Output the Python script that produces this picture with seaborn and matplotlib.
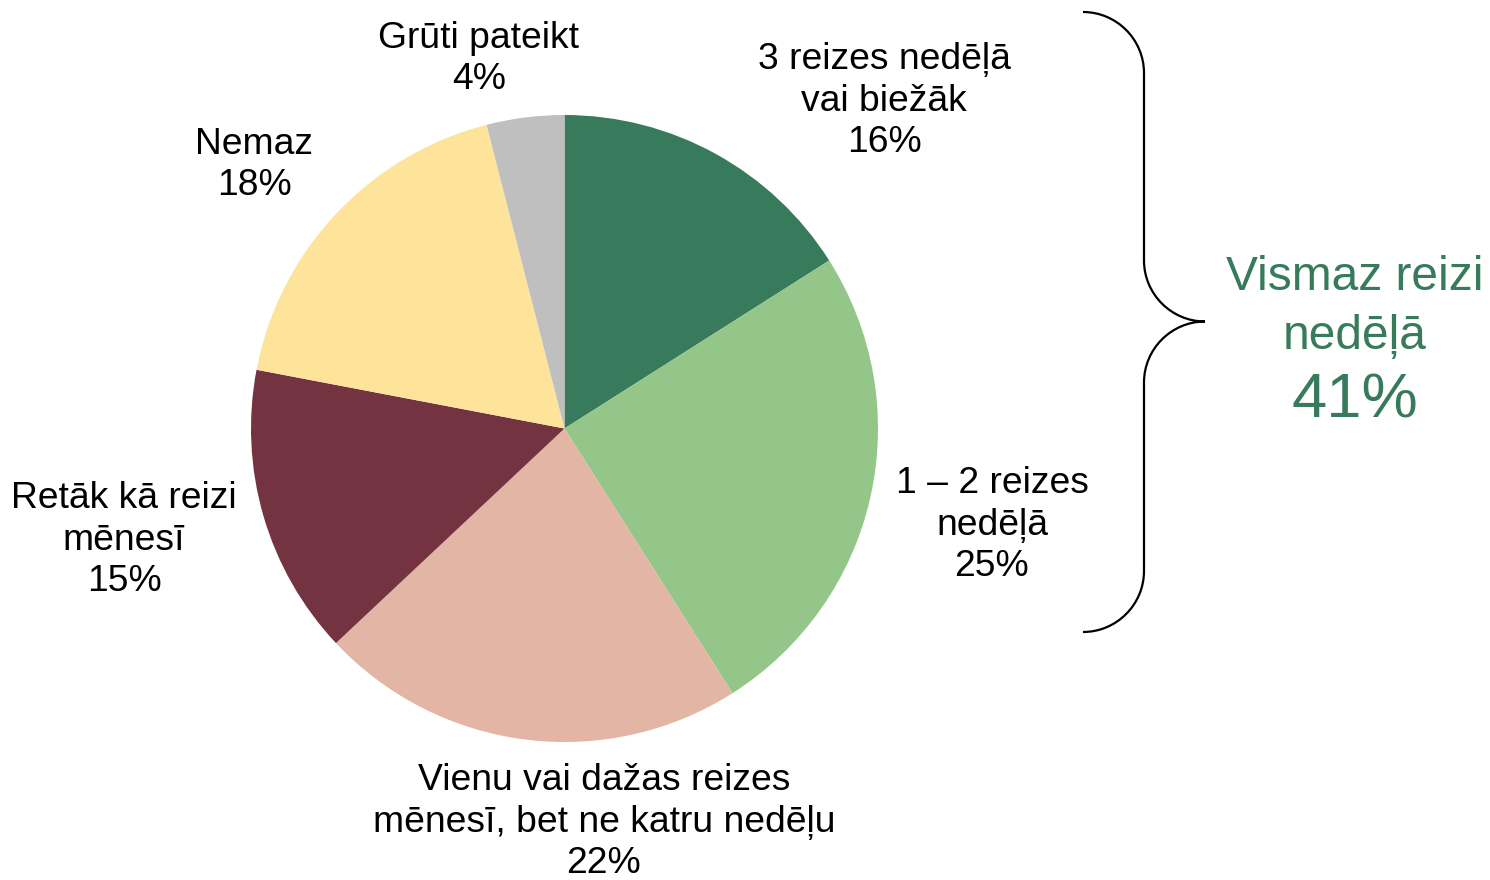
import matplotlib
matplotlib.use("Agg")
import matplotlib.pyplot as plt
import seaborn as sns
from matplotlib.path import Path
from matplotlib.patches import PathPatch

categories = ["3 reizes nedēļā\nvai biežāk", "1 – 2 reizes\nnedēļā",
              "Vienu vai dažas reizes\nmēnesī, bet ne katru nedēļu",
              "Retāk kā reizi\nmēnesī", "Nemaz", "Grūti pateikt"]
values = [16, 25, 22, 15, 18, 4]
colors = ["#387A5C", "#94C689", "#E2B5A5", "#733341", "#FEE49A", "#BFBFBF"]
brace_label = "Vismaz reizi\nnedēļā"
brace_value = "41%"

sns.set_theme(style="white")
plt.rcParams['font.family'] = ['Liberation Sans', 'DejaVu Sans']

W, H = 1490, 880
fig = plt.figure(figsize=(W / 100, H / 100), dpi=100)
ax = fig.add_axes([0, 0, 1, 1])

cx, cy, r = 564.5, H - 428.5, 313.5
ax.pie(values, colors=colors, startangle=90, counterclock=False,
       center=(cx, cy), radius=r, wedgeprops=dict(linewidth=0))

ax.set_xlim(0, W)
ax.set_ylim(0, H)
ax.set_aspect('equal')
ax.axis('off')

# label anchor positions (pixel coords of text centre)
label_pos = [(884, 101), (992, 525), (604, 822), (124, 540), (254, 165), (479, 59)]
fs = 26.8
for cat, v, (x, y) in zip(categories, values, label_pos):
    ax.text(x, H - y, f"{cat}\n{v}%", ha='center', va='center', fontsize=fs,
            color='black', linespacing=1.25)

# curly brace
x0, x1, x2 = 1083, 1144, 1205
ytop, ymid, ybot = 12, 321.5, 632
k = 0.55 * 61
verts = [
    (x0, H - ytop),
    (x0 + k, H - ytop), (x1, H - (ytop + 61 - k)), (x1, H - (ytop + 61)),
    (x1, H - (ymid - 61)),
    (x1, H - (ymid - 61 + k)), (x2 - k, H - ymid), (x2, H - ymid),
    (x2 - k, H - ymid), (x1, H - (ymid + 61 - k)), (x1, H - (ymid + 61)),
    (x1, H - (ybot - 61)),
    (x1, H - (ybot - 61 + k)), (x0 + k, H - ybot), (x0, H - ybot),
]
codes = ([Path.MOVETO] + [Path.CURVE4] * 3 + [Path.LINETO] + [Path.CURVE4] * 3
         + [Path.CURVE4] * 3 + [Path.LINETO] + [Path.CURVE4] * 3)
ax.add_patch(PathPatch(Path(verts, codes), fill=False, lw=1.6, edgecolor='black'))

green = "#387A5C"
ax.text(1355, H - 306.5, brace_label, ha='center', va='center', fontsize=34.5,
        color=green, linespacing=1.4)
ax.text(1355, H - 401, brace_value, ha='center', va='center', fontsize=45.5,
        color=green)

fig.savefig("out.png", dpi=100)
